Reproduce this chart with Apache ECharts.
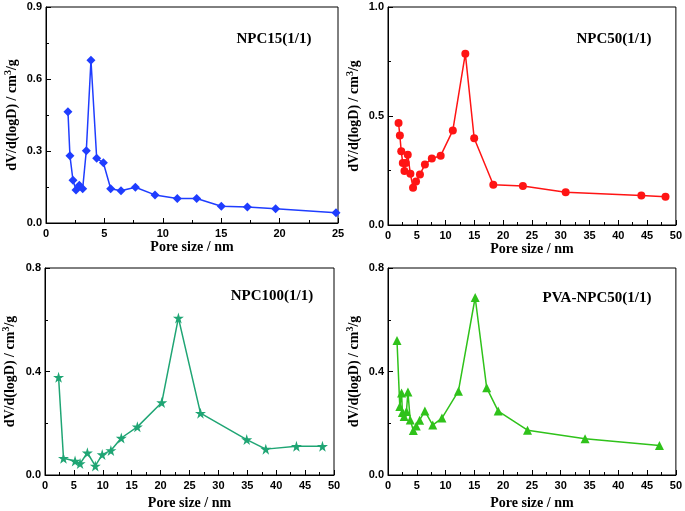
<!DOCTYPE html>
<html><head><meta charset="utf-8">
<script src="https://cdn.jsdelivr.net/npm/echarts@6/dist/echarts.min.js"></script>
<style>html,body{margin:0;padding:0;background:#fff}#c{width:685px;height:511px}</style>
</head><body><div id="c"></div>
<script>
// NPC15(1/1)
const p1X = [1.88,2.05,2.31,2.57,2.85,3.14,3.45,3.85,4.34,4.91,5.54,6.42,7.65,9.33,11.24,12.9,15.01,17.24,19.66,24.83];
const p1Y = [0.464,0.280,0.178,0.137,0.157,0.143,0.301,0.678,0.270,0.251,0.143,0.134,0.149,0.117,0.102,0.102,0.070,0.067,0.059,0.043];
// NPC50(1/1)
const p2X = [1.83,2.06,2.30,2.57,2.86,3.09,3.43,3.89,4.35,4.87,5.55,6.41,7.61,9.15,11.26,13.43,14.97,18.29,23.43,30.86,44.0,48.2];
const p2Y = [0.468,0.410,0.338,0.284,0.248,0.284,0.322,0.235,0.171,0.200,0.232,0.277,0.305,0.318,0.434,0.786,0.398,0.185,0.179,0.150,0.135,0.130];
// NPC100(1/1)
const p3X = [2.35,3.2,5.2,6.07,7.33,8.7,9.9,11.4,13.2,15.98,20.2,23.08,26.9,34.9,38.2,43.5,48.0];
const p3Y = [0.378,0.065,0.054,0.044,0.086,0.035,0.079,0.095,0.143,0.186,0.280,0.607,0.239,0.137,0.100,0.111,0.111];
// PVA-NPC50(1/1)
const p4X = [1.56,2.05,2.36,2.5,2.8,3.2,3.46,3.86,4.4,4.91,5.49,6.4,7.77,9.37,12.23,15.14,17.14,19.14,24.23,34.23,47.14];
const p4Y = [0.520,0.265,0.317,0.242,0.226,0.245,0.321,0.213,0.172,0.189,0.212,0.247,0.193,0.220,0.324,0.686,0.337,0.247,0.173,0.140,0.114];

const labels = ['NPC15(1/1)','NPC50(1/1)','NPC100(1/1)','PVA-NPC50(1/1)'];
const xMax = [25,50,50,50];
const yMax = [0.9,1.0,0.8,0.8];
const yStep = [0.3,0.5,0.4,0.4];
const xName = 'Pore size / nm';
const yName = '{a|dV/d(logD) / cm}{s|3}{a|/g}';

const colors = ['#1f3dff','#ff1414','#1fa574','#2fc21a'];
const star = 'path://M50,0 L61,35 L98,35 L68,57 L79,91 L50,70 L21,91 L32,57 L2,35 L39,35 Z';
const symbols = ['diamond','circle',star,'triangle'];
const symSizes = [9,8,11,9];
const xs = [p1X,p2X,p3X,p4X], ys = [p1Y,p2Y,p3Y,p4Y];

const grids = [
  {left:46, top:7, width:292, height:216},
  {left:388, top:7, width:292, height:218},
  {left:43, top:268, width:291, height:208},
  {left:388, top:268, width:292, height:208}
].map(g => Object.assign({show:true, borderColor:'#000', borderWidth:1, backgroundColor:'transparent'}, g));

const xGaps = [11,10,21,21];
const yGaps = [25,25,26,25];
const tickFont = {color:'#000', fontFamily:'Liberation Sans', fontWeight:'bold', fontSize:11};
const nameFont = {color:'#000', fontFamily:'Liberation Serif', fontWeight:'bold', fontSize:14};

const xAxis = [], yAxis = [], series = [];
for (let i=0;i<4;i++){
  xAxis.push({type:'value', gridIndex:i, min:0, max:xMax[i], interval:5,
    name:xName, nameLocation:'middle', nameGap:xGaps[i], nameTextStyle:nameFont,
    axisLine:{show:true, onZero:false, lineStyle:{color:'#000', width:1}},
    axisTick:{show:true, inside:true, length:5, lineStyle:{color:'#000'}},
    minorTick:{show:true, splitNumber:2, length:3, lineStyle:{color:'#000'}},
    splitLine:{show:false},
    axisLabel:Object.assign({margin:5}, tickFont)});
  yAxis.push({type:'value', gridIndex:i, min:0, max:yMax[i], interval:yStep[i],
    name:yName, nameLocation:'middle', nameGap:yGaps[i], nameRotate:90,
    nameTextStyle:Object.assign({}, nameFont, {rich:{
      a:{fontFamily:'Liberation Serif', fontWeight:'bold', fontSize:14, color:'#000'},
      s:{fontFamily:'Liberation Serif', fontWeight:'bold', fontSize:10, color:'#000', padding:[0,0,8,0]}
    }}),
    axisLine:{show:true, onZero:false, lineStyle:{color:'#000', width:1}},
    axisTick:{show:true, inside:true, length:5, lineStyle:{color:'#000'}},
    minorTick:{show:true, splitNumber:2, length:3, lineStyle:{color:'#000'}},
    splitLine:{show:false},
    axisLabel:Object.assign({margin:4, formatter:v=>v.toFixed(1)}, tickFont)});
  series.push({type:'line', xAxisIndex:i, yAxisIndex:i,
    data: xs[i].map((x,k)=>[x, ys[i][k]]),
    symbol:symbols[i], symbolSize:symSizes[i], showSymbol:true,
    lineStyle:{color:colors[i], width:1.5},
    itemStyle:{color:colors[i], borderWidth:0},
    animation:false});
}

const labelPos = [[274,39],[614,39],[272,296],[597,298]];
const graphic = labels.map((t,i)=>({type:'text', x:labelPos[i][0], y:labelPos[i][1],
  style:{text:t, font:'bold 15px "Liberation Serif"', fill:'#000', align:'center', verticalAlign:'middle'}}));

const chart = echarts.init(document.getElementById('c'), null, {renderer:'canvas'});
chart.setOption({animation:false, backgroundColor:'#fff', grid:grids, xAxis, yAxis, series, graphic});
</script></body></html>
